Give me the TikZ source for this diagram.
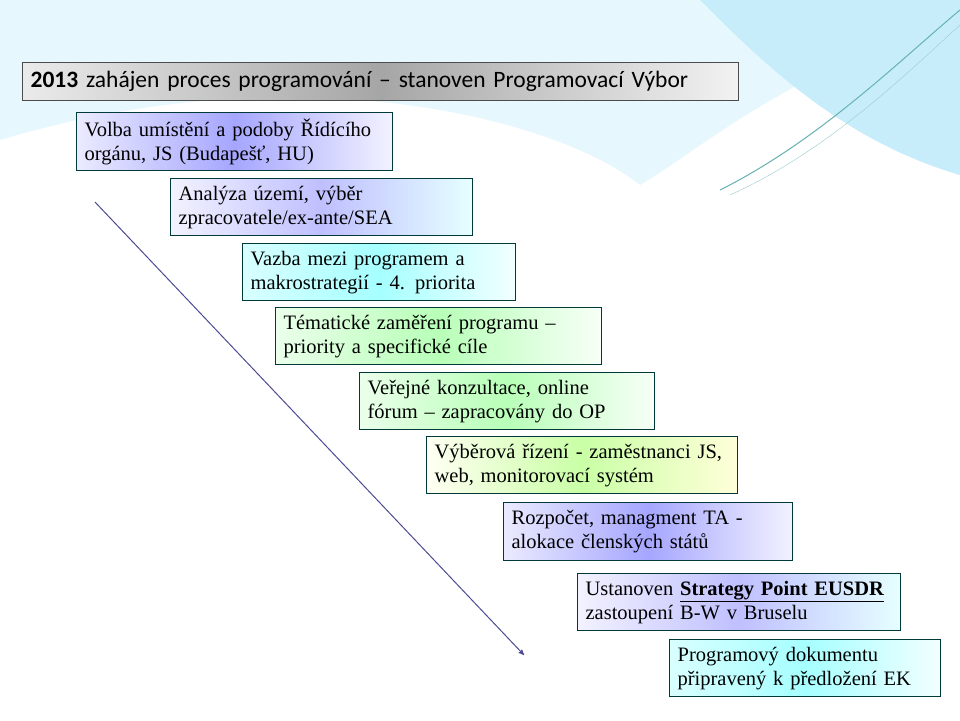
\documentclass[tikz,border=0pt]{standalone}
\usepackage{fontspec}
\setmainfont{Liberation Serif}
\newfontfamily\titlefont{Carlito}
\usetikzlibrary{arrows}

\begin{document}
\begin{tikzpicture}[x=1pt,y=-1pt]
	\tikzstyle{stepbox}=[draw=black!55!teal,line width=1.2pt,anchor=north west,align=left,inner xsep=8pt,inner ysep=2pt,font=\fontsize{20.5}{24}\selectfont]
	\tikzstyle{blu}=[left color=blue!8,right color=blue!5,middle color=blue!35]
	\tikzstyle{cya}=[left color=cyan!15,right color=cyan!5,middle color=cyan!35]
	\tikzstyle{grn}=[left color=green!8,right color=green!3,middle color=green!28]
	\tikzstyle{ylg}=[left color=yellow!5,right color=yellow!15,middle color=yellow!40!green!35]
	\useasboundingbox (0,0) rectangle (960,720);
	% background
	\fill[white] (0,0) rectangle (960,720);
	\fill[cyan!10] (0,0) -- (960,0) -- (960,25) .. controls (800,60) and (700,150) .. (640,185) .. controls (560,120) and (300,50) .. (0,140) -- cycle;
	\fill[cyan!22] (700,0) .. controls (760,60) and (840,140) .. (960,175) -- (960,0) -- cycle;
	\draw[teal!60,line width=1pt] (720,190) .. controls (820,140) and (900,60) .. (960,10);
	\draw[teal!40] (730,195) .. controls (830,150) and (910,70) .. (960,25);
	\draw[teal!50,line width=1.5pt] (170,90) .. controls (250,75) and (350,75) .. (420,85);
	% boxes
	\node[stepbox,text width=700,minimum height=38,left color=black!8,right color=black!5,middle color=black!35,draw=black!70,font=\titlefont\fontsize{23.5}{25}\selectfont] (t) at (22,62) {\textbf{2013} zahájen proces programování – stanoven Programovací Výbor};
	\node[stepbox,blu,text width=300,minimum height=58] (b1) at (76,112) {Volba umístění a podoby Řídícího\\orgánu, JS (Budapešť, HU)};
	\node[stepbox,left color=blue!5,right color=cyan!10,middle color=blue!25,text width=286,minimum height=57] (b2) at (170,178) {Analýza území, výběr\\zpracovatele/ex-ante/SEA};
	\node[stepbox,cya,text width=257,minimum height=57] (b3) at (242,243) {Vazba mezi programem a\\makrostrategií - 4. priorita};
	\node[stepbox,grn,text width=310,minimum height=57] (b4) at (275,307) {Tématické zaměření programu –\\priority a specifické cíle};
	\node[stepbox,grn,text width=279,minimum height=57] (b5) at (359,372) {Veřejné konzultace, online\\fórum – zapracovány do OP};
	\node[stepbox,ylg,text width=295,minimum height=57] (b6) at (426,436) {Výběrová řízení - zaměstnanci JS,\\web, monitorovací systém};
	\node[stepbox,blu,text width=273,minimum height=58] (b7) at (503,502) {Rozpočet, managment TA -\\alokace členských států};
	\node[stepbox,left color=blue!5,right color=cyan!10,middle color=blue!25,text width=307,minimum height=57] (b8) at (577,573) {Ustanoven \underline{\textbf{Strategy Point EUSDR}}\\zastoupení B-W v Bruselu};
	\node[stepbox,cya,text width=255,minimum height=57] (b9) at (669,639) {Programový dokumentu\\připravený k předložení EK};
	% arrow
	\coordinate (s) at (95,202);
	\coordinate (e) at (524,655);
	\draw[->,>=stealth',line width=1pt,draw=blue!40!black!70] (s) -- (e);
\end{tikzpicture}
\end{document}
